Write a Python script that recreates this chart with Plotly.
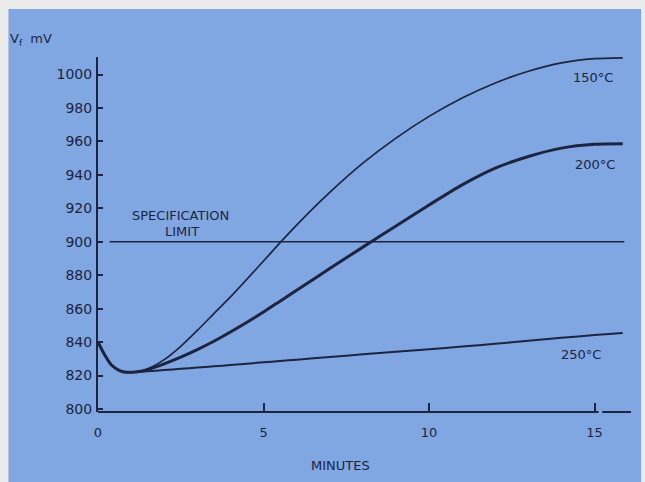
import plotly.graph_objects as go

INK = '#1c2440'
PANEL = '#80a7e2'
FRAME = '#ebebeb'
FONT = 'DejaVu Sans'

# data
MINUTES = [0, 0.2, 0.4, 0.65, 0.85, 1.2, 1.5, 2, 2.5, 3, 3.5, 4, 5, 5.5, 6, 7, 8, 9, 10, 11, 12, 13, 14, 15, 15.85]
VF_150 = [840, 832.5, 826.5, 823, 822, 822.3, 824, 829.5, 837.5, 847, 857, 867, 888.5, 899.5, 910, 929.5, 947, 962,
          975, 986, 995, 1002, 1007, 1009.5, 1010]
VF_200 = [840, 832.5, 826.5, 823, 822, 822.3, 823.5, 827, 831, 835.5, 840.5, 846, 858, 864.5, 871, 884, 896.8, 909.5,
          922, 934, 944, 951, 956, 958.3, 958.6]
VF_250 = [840, 832.5, 826.5, 823, 822, 822.2, 822.5, 823.3, 824, 824.8, 825.5, 826.3, 827.9, 828.7, 829.5, 831.1,
          832.7, 834.2, 835.7, 837.3, 839, 840.8, 842.6, 844.2, 845.5]
SPEC_LIMIT = 900
SPEC_SPAN = [0.35, 15.9]
Y_TICKS = list(range(800, 1001, 20))
X_TICKS = [0, 5, 10, 15]

CURVES = [
    ('150°C', VF_150, 1.7, 14.95, 998.5),
    ('200°C', VF_200, 3.0, 15.0, 946),
    ('250°C', VF_250, 2.0, 14.6, 832.5),
]

fig = go.Figure()
fig.add_trace(go.Scatter(
    x=SPEC_SPAN, y=[SPEC_LIMIT, SPEC_LIMIT], mode='lines',
    line=dict(color=INK, width=1.6), hoverinfo='skip', showlegend=False,
))
for name, ys, w, lx, ly in CURVES:
    fig.add_trace(go.Scatter(
        x=MINUTES, y=ys, mode='lines', name=name,
        line=dict(color=INK, width=w, shape='spline', smoothing=0.6),
        showlegend=False,
    ))

annotations = [
    dict(x=lx, y=ly, text=name, showarrow=False, font=dict(size=13, color=INK))
    for name, ys, w, lx, ly in CURVES
]
annotations += [
    dict(x=2.5, y=916, text='SPECIFICATION', showarrow=False, font=dict(size=13, color=INK)),
    dict(x=2.55, y=906, text='LIMIT', showarrow=False, font=dict(size=13, color=INK)),
    dict(x=-0.125, y=1.05, xref='paper', yref='paper', text='V<sub>f</sub>  mV', showarrow=False,
         xanchor='center', yanchor='middle', font=dict(size=13, color=INK)),
    dict(x=0.455, y=-0.15, xref='paper', yref='paper', text='MINUTES', showarrow=False,
         yanchor='middle', font=dict(size=13, color=INK)),
]

shapes = [
    # blue card behind the chart
    dict(type='rect', xref='paper', yref='paper', x0=-0.168, x1=1.019, y0=-0.25, y1=1.135,
         fillcolor=PANEL, line=dict(width=0), layer='below'),
    # x axis line, with the little break after 15
    dict(type='line', xref='x', yref='paper', x0=0, x1=15.12, y0=0, y1=0, line=dict(color=INK, width=2)),
    dict(type='line', xref='x', yref='paper', x0=15.23, x1=16.1, y0=0, y1=0, line=dict(color=INK, width=2)),
]

fig.update_layout(
    width=645, height=482,
    margin=dict(l=98, r=14, t=57, b=70),
    paper_bgcolor=FRAME,
    plot_bgcolor='rgba(0,0,0,0)',
    font=dict(family=FONT, color=INK, size=13),
    showlegend=False,
    annotations=annotations,
    shapes=shapes,
    xaxis=dict(
        range=[0, 16.1], tickvals=X_TICKS, ticks='inside', ticklen=9, tickwidth=1.6, tickcolor=INK,
        showline=False, showgrid=False, zeroline=False, tickfont=dict(size=13, color=INK),
        ticklabelstandoff=11,
    ),
    yaxis=dict(
        range=[798.2, 1010.5], tickvals=Y_TICKS, ticks='inside', ticklen=5, tickwidth=1.6, tickcolor=INK,
        showline=True, linecolor=INK, linewidth=2, showgrid=False, zeroline=False,
        tickfont=dict(size=14, color=INK), ticklabelstandoff=1,
    ),
)

# page has a default 8px body margin, drop it so the figure sits at 0,0
fig.write_html('out.html', config={'displayModeBar': False},
               post_script="document.body.style.margin='0';")
